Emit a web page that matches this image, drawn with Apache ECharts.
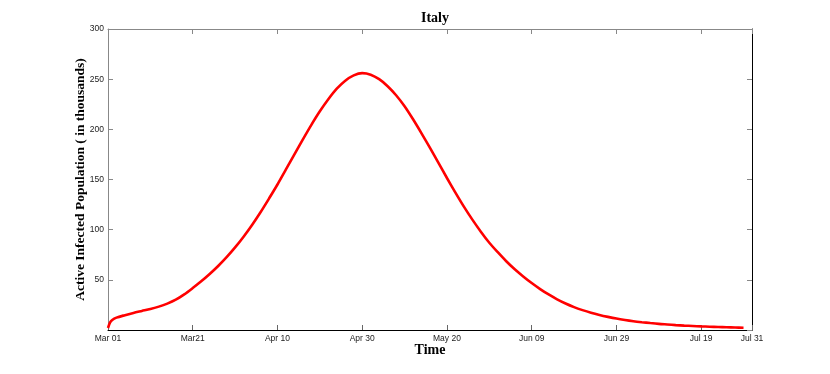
<!DOCTYPE html>
<html>
<head>
<meta charset="utf-8">
<script src="https://cdn.jsdelivr.net/npm/echarts@6/dist/echarts.min.js"></script>
<style>
  html, body { margin: 0; padding: 0; background: #fff; }
  #chart { width: 830px; height: 374px; }
</style>
</head>
<body>
<div id="chart"></div>
<script>
// days since Mar 01 and active infected population (thousands)
var days = [0, 0.5, 1, 2, 4, 6, 8, 10, 12, 14, 16, 18, 20, 22, 24, 26, 28, 30, 32, 34,
    36, 38, 40, 42, 44, 46, 48, 50, 52, 54, 56, 58, 60, 62, 64, 66, 68, 70, 72, 74,
    76, 78, 80, 82, 84, 86, 88, 90, 92, 94, 96, 98, 100, 102, 104, 106, 108, 110, 112, 114,
    116, 118, 120, 122, 124, 126, 128, 130, 132, 134, 136, 138, 140, 142, 144, 146, 148, 150];
var active = [2, 7.5, 10, 12.3, 14.8, 17, 19, 21, 23.3, 26.3, 30.2, 35.5, 41.8, 48.5, 55.8, 63.8, 72.6, 82.3, 93, 104.7,
    117.4, 131, 145, 160, 175, 190, 204.5, 218, 230, 240.5, 248.5, 253.8, 256, 254.5, 250, 243, 234, 223, 210, 196,
    181.5, 166.5, 151.5, 137, 123, 110, 98, 87, 77.5, 68.5, 60.5, 53.4, 46.8, 40.8, 35.4, 30.6, 26.4, 22.8, 19.8, 17.2,
    15, 13.1, 11.4, 10, 8.8, 7.8, 6.9, 6.1, 5.5, 4.9, 4.4, 4, 3.6, 3.3, 3, 2.7, 2.5, 2.3];

var tickDays = [0, 20, 40, 60, 80, 100, 120, 140, 152];
var tickLabels = ['Mar 01', 'Mar21', 'Apr 10', 'Apr 30', 'May 20', 'Jun 09', 'Jun 29', 'Jul 19', 'Jul 31'];

var serif = "'Liberation Serif', 'Times New Roman', serif";
var sans = "'Liberation Sans', Arial, sans-serif";

var points = [];
for (let i = 0; i < days.length; i++) {
    points.push([days[i], active[i]]);
}

function dayLabel(v) {
    let idx = tickDays.indexOf(Math.round(v));
    return idx >= 0 ? tickLabels[idx] : '';
}

var chartDom = document.getElementById('chart');
var myChart = echarts.init(chartDom);
var option;

option = {
    animation: false,
    title: {
        text: 'Italy',
        left: 416,
        top: 6,
        textStyle: { fontFamily: serif, fontWeight: 'bold', fontSize: 14, color: '#000' }
    },
    grid: { left: 108, right: 78, top: 29, bottom: 44 },
    xAxis: [
        {
            type: 'value',
            min: 0,
            max: 152,
            interval: 20,
            name: 'Time',
            nameLocation: 'middle',
            nameGap: 13,
            nameMoveOverlap: false,
            nameTextStyle: { fontFamily: serif, fontWeight: 'bold', fontSize: 14, color: '#000' },
            axisLine: { lineStyle: { color: '#000', width: 1 } },
            axisTick: { inside: true, length: 5, lineStyle: { color: '#666' } },
            axisLabel: {
                fontFamily: sans, fontSize: 8.5, color: '#222', margin: 4,
                formatter: dayLabel
            },
            splitLine: { show: false }
        },
        {
            type: 'value',
            position: 'top',
            min: 0,
            max: 152,
            interval: 20,
            axisLine: { onZero: false, lineStyle: { color: '#888', width: 1 } },
            axisTick: { inside: true, length: 5, lineStyle: { color: '#888' } },
            axisLabel: { show: false },
            splitLine: { show: false }
        }
    ],
    yAxis: [
        {
            type: 'value',
            min: 0,
            max: 300,
            interval: 50,
            name: 'Active Infected Population ( in thousands)',
            nameLocation: 'middle',
            nameGap: 20,
            nameMoveOverlap: false,
            nameTextStyle: { fontFamily: serif, fontWeight: 'bold', fontSize: 13.5, color: '#000' },
            axisLine: { show: true, onZero: false, lineStyle: { color: '#888', width: 1 } },
            axisTick: { show: true, inside: true, length: 5, lineStyle: { color: '#888' } },
            axisLabel: { fontFamily: sans, fontSize: 8.5, color: '#222', margin: 4, showMinLabel: false },
            splitLine: { show: false }
        },
        {
            type: 'value',
            position: 'right',
            min: 0,
            max: 300,
            interval: 50,
            axisLine: { show: true, onZero: false, lineStyle: { color: '#000', width: 1 } },
            axisTick: { show: true, inside: true, length: 5, lineStyle: { color: '#888' } },
            axisLabel: { show: false },
            splitLine: { show: false }
        }
    ],
    series: [
        {
            type: 'line',
            data: points,
            smooth: 0.3,
            showSymbol: false,
            lineStyle: { color: '#ff0000', width: 2.6 },
            itemStyle: { color: '#ff0000' }
        }
    ]
};
option && myChart.setOption(option);
</script>
</body>
</html>
